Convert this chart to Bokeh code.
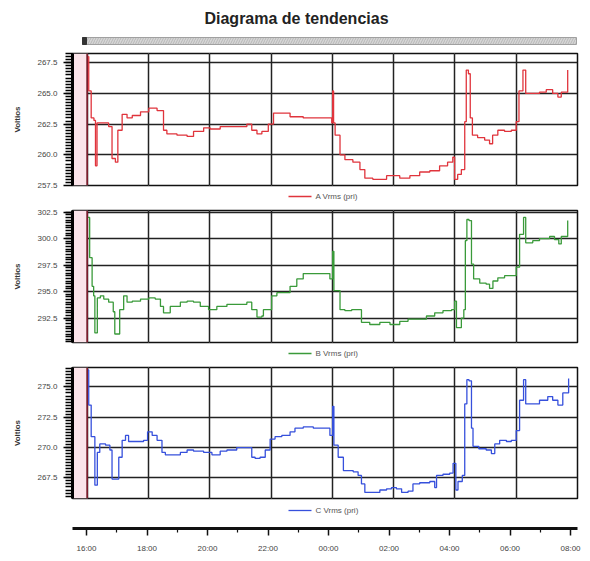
from bokeh.plotting import figure
from bokeh.layouts import column
from bokeh.models import (Range1d, FixedTicker, Grid, Span, BoxAnnotation, NumeralTickFormatter)
from bokeh.embed import file_html
from bokeh.resources import INLINE
from bokeh.core.properties import value

TITLE = "Diagrama de tendencias"
Y_LABEL = "Voltios"
TIME_TICKS = [0, 2, 4, 6, 8, 10, 12, 14, 16]          # hours since 16:00
TIME_MINOR = [1, 3, 5, 7, 9, 11, 13, 15]
TIME_LABELS = ["16:00", "18:00", "20:00", "22:00", "00:00", "02:00", "04:00", "06:00", "08:00"]
X_START, X_END = -0.48, 16.0
AXIS_X_START, AXIS_X_END = -0.463, 16.23

A_LABEL = "A Vrms (pri)"
A_TICKS = [257.5, 260.0, 262.5, 265.0, 267.5]
A_T = [0.03, 0.05, 0.13, 0.22, 0.27, 0.32, 0.49, 0.70, 0.81, 0.92, 1.00, 1.14, 1.30, 1.47, 1.74,
       2.01, 2.28, 2.49, 2.60, 2.93, 3.26, 3.47, 3.80, 4.01, 4.34, 4.77, 5.21, 5.37, 5.54, 5.70,
       5.91, 6.08, 6.40, 6.62, 7.05, 7.60, 7.98, 8.01, 8.04, 8.09, 8.25, 8.41, 8.67, 8.90, 9.06,
       9.32, 9.77, 10.20, 10.53, 10.85, 11.18, 11.50, 11.76, 11.93, 11.99, 12.09, 12.21, 12.32,
       12.37, 12.44, 12.50, 12.57, 12.74, 12.97, 13.13, 13.23, 13.40, 13.62, 13.84, 14.00, 14.09,
       14.22, 14.31, 14.53, 14.76, 14.98, 15.19, 15.36, 15.47, 15.68]
A_V = [268.0, 265.2, 263.0, 262.8, 259.1, 262.6, 262.6, 262.3, 259.7, 259.4, 262.0, 263.3, 263.0,
       263.2, 263.5, 263.8, 263.6, 262.0, 261.7, 261.6, 261.5, 261.9, 262.2, 262.1, 262.3, 262.3,
       262.5, 262.0, 261.7, 261.9, 262.5, 263.4, 263.4, 263.1, 263.0, 263.0, 262.6, 265.2, 262.6,
       261.6, 260.0, 259.6, 259.4, 258.8, 258.1, 258.0, 258.3, 258.1, 258.3, 258.6, 258.7, 259.1,
       259.4, 259.8, 258.0, 258.4, 258.8, 262.7, 266.9, 266.6, 263.0, 261.6, 261.4, 261.2, 260.9,
       261.6, 262.0, 261.9, 262.0, 262.7, 265.2, 266.9, 265.0, 265.0, 265.1, 265.3, 265.0, 264.7,
       265.1, 266.9]

B_LABEL = "B Vrms (pri)"
B_TICKS = [292.5, 295.0, 297.5, 300.0, 302.5]
B_T = [0.02, 0.08, 0.16, 0.21, 0.25, 0.33, 0.43, 0.54, 0.70, 0.85, 0.90, 0.98, 1.06, 1.19, 1.30,
       1.47, 1.74, 2.01, 2.22, 2.39, 2.49, 2.71, 3.04, 3.26, 3.47, 3.69, 3.96, 4.23, 4.56, 4.88,
       5.21, 5.37, 5.54, 5.70, 5.75, 5.91, 6.02, 6.19, 6.40, 6.62, 6.84, 7.05, 7.38, 7.60, 7.92,
       8.01, 8.05, 8.25, 8.41, 8.63, 8.87, 8.95, 9.22, 9.55, 9.88, 10.20, 10.47, 10.85, 11.07,
       11.34, 11.61, 11.89, 11.99, 12.05, 12.21, 12.29, 12.34, 12.39, 12.46, 12.54, 12.61, 12.81,
       13.02, 13.13, 13.24, 13.40, 13.62, 13.84, 14.00, 14.11, 14.24, 14.31, 14.54, 14.76, 15.09,
       15.25, 15.39, 15.47, 15.68]
B_V = [302.0, 298.2, 295.5, 294.6, 291.1, 294.4, 294.6, 294.3, 294.0, 293.1, 291.0, 291.0, 293.3,
       294.6, 294.0, 294.1, 294.3, 294.4, 294.3, 293.6, 293.0, 293.6, 294.0, 294.1, 294.0, 293.6,
       293.3, 293.6, 293.8, 293.8, 294.0, 293.3, 292.6, 292.7, 293.3, 293.3, 294.6, 294.9, 294.9,
       295.5, 296.2, 296.7, 296.7, 296.7, 296.2, 298.8, 295.1, 293.3, 293.2, 293.3, 293.3, 292.1,
       291.9, 292.1, 291.9, 292.2, 292.4, 292.4, 292.7, 293.0, 293.2, 293.3, 294.1, 291.6, 292.5,
       293.3, 299.8, 301.8, 301.7, 297.6, 296.2, 295.8, 295.7, 295.3, 296.0, 296.3, 296.5, 296.5,
       297.3, 300.4, 302.0, 299.6, 299.8, 300.0, 300.2, 299.9, 299.5, 300.2, 301.7]

C_LABEL = "C Vrms (pri)"
C_TICKS = [267.5, 270.0, 272.5, 275.0]
C_T = [0.02, 0.05, 0.13, 0.21, 0.25, 0.33, 0.41, 0.60, 0.74, 0.81, 0.98, 1.03, 1.14, 1.25, 1.35,
       1.63, 1.84, 1.97, 2.12, 2.28, 2.44, 2.55, 2.82, 3.04, 3.26, 3.47, 3.80, 4.07, 4.34, 4.56,
       4.88, 5.21, 5.37, 5.48, 5.64, 5.81, 5.97, 6.13, 6.35, 6.62, 6.78, 7.05, 7.38, 7.60, 7.92,
       8.01, 8.05, 8.19, 8.36, 8.52, 8.68, 8.84, 8.95, 9.06, 9.33, 9.55, 9.77, 9.93, 10.09, 10.26,
       10.47, 10.63, 10.85, 11.18, 11.34, 11.40, 11.61, 11.83, 11.94, 12.03, 12.10, 12.24, 12.32,
       12.39, 12.46, 12.54, 12.59, 12.78, 13.02, 13.19, 13.30, 13.46, 13.68, 13.84, 14.00, 14.11,
       14.24, 14.31, 14.54, 14.76, 15.03, 15.19, 15.36, 15.52, 15.71]
C_V = [276.4, 273.5, 270.9, 270.9, 266.9, 269.6, 270.3, 270.2, 269.8, 267.4, 267.4, 269.2, 270.6,
       271.0, 270.5, 270.5, 270.6, 271.3, 271.0, 270.6, 269.6, 269.4, 269.4, 269.6, 269.8, 269.7,
       269.6, 269.4, 269.7, 269.8, 270.0, 270.0, 269.2, 269.1, 269.2, 269.8, 270.7, 270.9, 271.0,
       271.3, 271.6, 271.7, 271.6, 271.6, 271.0, 273.4, 270.2, 269.2, 268.1, 268.1, 268.0, 267.7,
       267.0, 266.3, 266.3, 266.5, 266.6, 266.7, 266.6, 266.3, 266.4, 267.0, 267.1, 267.2, 266.7,
       267.7, 267.8, 267.9, 268.7, 266.5, 267.2, 267.7, 273.6, 275.6, 275.5, 271.6, 270.1, 269.9,
       269.8, 269.5, 270.3, 270.6, 270.5, 270.6, 271.4, 273.9, 275.6, 273.6, 273.6, 273.9, 274.2,
       273.9, 273.5, 274.5, 275.7]

FONT = "Liberation Sans"
W = 590
BL, BR = 72, 13          # left / right borders -> frame spans page x 72..577
MINOR_STEP = 0.25


def blank(height, y_top):
    """figure whose frame covers the full width between borders, pixel coordinates"""
    f = figure(width=W, height=height, output_backend="svg", toolbar_location=None,
               x_range=Range1d(BL, W - BR), y_range=Range1d(y_top + height, y_top),
               min_border_left=BL, min_border_right=BR, min_border_top=0, min_border_bottom=0,
               x_axis_location=None, y_axis_location=None)
    f.outline_line_color = None
    f.grid.visible = False
    f.background_fill_color = "white"
    f.border_fill_color = "white"
    return f


def legend_strip(height, y_top, y_center, color, label):
    f = blank(height, y_top)
    f.segment(x0=[288], y0=[y_center], x1=[311], y1=[y_center], line_color=color, line_width=1.3)
    f.text(x=[315], y=[y_center], text=[label], text_font=value(FONT), text_font_size="8px",
           text_align="left", text_baseline="middle", text_color="#555555")
    return f


def panel(t, v, color, ylo, yhi, frame_h, ticks):
    p = figure(width=W, height=frame_h + 10, output_backend="svg", toolbar_location=None,
               x_range=Range1d(X_START, X_END), y_range=Range1d(ylo, yhi),
               x_axis_location=None, min_border_left=BL, min_border_right=BR,
               min_border_top=5, min_border_bottom=5)
    p.background_fill_color = "white"
    p.border_fill_color = "white"
    p.outline_line_color = "#111111"
    p.outline_line_width = 1.5
    p.outline_line_alpha = 1.0

    p.add_layout(BoxAnnotation(right=0, fill_color="#fbe4ea", fill_alpha=1.0,
                               line_alpha=0, level="underlay"))

    n0 = int(ylo / MINOR_STEP) + 1
    n1 = int(yhi / MINOR_STEP)
    minors = [k * MINOR_STEP for k in range(n0, n1 + 1)]

    ax = p.yaxis[0]
    ax.ticker = FixedTicker(ticks=ticks, minor_ticks=minors)
    ax.formatter = NumeralTickFormatter(format="0.0")
    ax.axis_label = Y_LABEL
    ax.axis_label_text_font = FONT
    ax.axis_label_text_font_size = "8px"
    ax.axis_label_text_font_style = "bold"
    ax.axis_label_text_color = "#333333"
    ax.axis_label_standoff = 12
    ax.major_label_text_font = FONT
    ax.major_label_text_font_size = "8px"
    ax.major_label_text_color = "#444444"
    ax.major_label_standoff = 6
    ax.axis_line_width = 3
    ax.axis_line_color = "#000000"
    ax.major_tick_out = 9
    ax.major_tick_in = 0
    ax.minor_tick_out = 7
    ax.minor_tick_in = 0
    ax.major_tick_line_width = 1.6
    ax.minor_tick_line_width = 1.5
    ax.major_tick_line_color = "#000000"
    ax.minor_tick_line_color = "#000000"
    ax.minor_tick_line_alpha = 1.0

    p.ygrid.grid_line_color = "#222222"
    p.ygrid.grid_line_width = 1.4
    p.add_layout(Grid(dimension=0, ticker=FixedTicker(ticks=TIME_TICKS),
                      grid_line_color="#222222", grid_line_width=1.5))

    p.step(t, v, mode="after", line_color=color, line_width=1.3)
    p.add_layout(Span(location=0, dimension="height", line_color="#7d1a2a", line_width=1.6))
    return p


# title + scroll band (page y 0..48)
tf = blank(48, 0)
tf.text(x=[296], y=[18], text=[TITLE], text_font=value(FONT), text_font_style="bold",
        text_font_size="16px", text_align="center", text_baseline="middle",
        text_color="#222222")
tf.quad(left=[82], right=[576], bottom=[44], top=[37], fill_color="#d6d6d6",
        line_color="#a0a0a0", line_width=1, hatch_pattern="/", hatch_color="#8a8a8a",
        hatch_alpha=0.4, hatch_scale=5)
tf.quad(left=[82], right=[86], bottom=[44], top=[37], fill_color="#333333", line_color="#333333")

p1 = panel(A_T, A_V, "#e0343c", 257.5, 268.25, 132, A_TICKS)   # page 48..190
la = legend_strip(15, 190, 196, "#e0343c", A_LABEL)             # 190..205
p2 = panel(B_T, B_V, "#3a9a3a", 290.2, 302.65, 132, B_TICKS)    # 205..347
lb = legend_strip(15, 347, 353, "#3a9a3a", B_LABEL)             # 347..362
p3 = panel(C_T, C_V, "#3650dc", 265.8, 276.6, 131, C_TICKS)     # 362..503
lc = legend_strip(12, 503, 510, "#3650dc", C_LABEL)             # 503..515

# bottom time axis (515..559)
af = figure(width=W, height=44, output_backend="svg", toolbar_location=None,
            x_range=Range1d(AXIS_X_START, AXIS_X_END), y_range=Range1d(0, 1),
            y_axis_location=None, min_border_left=BL, min_border_right=BR,
            min_border_top=12, min_border_bottom=31)
af.outline_line_color = None
af.grid.visible = False
af.background_fill_color = "white"
af.border_fill_color = "white"
xa = af.xaxis[0]
xa.ticker = FixedTicker(ticks=TIME_TICKS, minor_ticks=TIME_MINOR)
xa.major_label_overrides = {tk: lb_ for tk, lb_ in zip(TIME_TICKS, TIME_LABELS)}
xa.axis_line_width = 3
xa.axis_line_color = "#111111"
xa.major_tick_out = 7
xa.major_tick_in = 0
xa.minor_tick_out = 4
xa.minor_tick_in = 0
xa.major_tick_line_width = 1.5
xa.minor_tick_line_width = 1.2
xa.major_tick_line_color = "#111111"
xa.minor_tick_line_color = "#111111"
xa.major_label_text_font = FONT
xa.major_label_text_font_size = "8px"
xa.major_label_text_color = "#444444"
xa.major_label_standoff = 8

layout = column(tf, p1, la, p2, lb, p3, lc, af, spacing=0)
open("out.html", "w").write(file_html(layout, INLINE))
